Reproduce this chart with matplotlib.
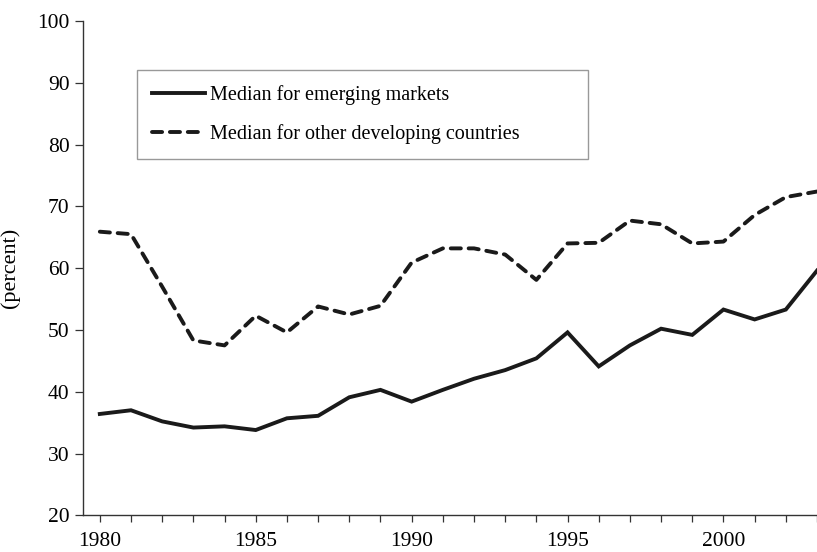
import numpy as np
import matplotlib.pyplot as plt

plt.rcParams['font.family'] = ['Liberation Serif', 'DejaVu Serif']

years = list(range(1980, 2004))
emerging = [36.4, 37.0, 35.2, 34.2, 34.4, 33.8, 35.7, 36.1, 39.1, 40.3, 38.4, 40.3,
            42.1, 43.5, 45.4, 49.6, 44.1, 47.5, 50.2, 49.2, 53.3, 51.7, 53.3, 59.6]
developing = [65.9, 65.5, 57.0, 48.3, 47.5, 52.3, 49.6, 53.8, 52.5, 53.9, 60.9, 63.2,
              63.2, 62.2, 58.1, 64.0, 64.1, 67.7, 67.1, 64.0, 64.3, 68.6, 71.5, 72.4]

W, H = 817, 552
fig = plt.figure(figsize=(W / 100, H / 100), dpi=100)
ax = fig.add_axes([83.3 / W, (H - 515.3) / H, (W - 83.3) / W, (515.3 - 21) / H])

l1, = ax.plot(years, emerging, color='#1a1a1a', lw=2.8, solid_joinstyle='miter',
              label='Median for emerging markets')
l2, = ax.plot(years, developing, color='#1a1a1a', lw=2.8, dashes=(2.6, 2.0),
              dash_capstyle='round', label='Median for other developing countries')

ax.set_xlim(1979.47, 2002.91)
ax.set_ylim(20, 100)
ax.set_yticks(range(20, 101, 10))
ax.set_xticks(years, minor=True)
ax.set_xticks([1980, 1985, 1990, 1995, 2000])
ax.tick_params(axis='both', which='both', direction='out', labelsize=15.5, color='#333333')
ax.tick_params(axis='x', which='both', length=5, width=0.9, pad=7)
ax.tick_params(axis='y', length=6, width=0.9, pad=4)
for s in ['top', 'right']:
    ax.spines[s].set_visible(False)
for s in ['left', 'bottom']:
    ax.spines[s].set_linewidth(1.0)
    ax.spines[s].set_color('#333333')

ax.set_ylabel('(percent)', fontsize=16, labelpad=12)

leg = ax.legend(handles=[l1, l2], loc='upper left',
                bbox_to_anchor=(137.3 / W, 1 - 157.3 / H, (587.7 - 137.3) / W, (157.3 - 70) / H),
                bbox_transform=fig.transFigure, mode='expand', borderaxespad=0,
                fancybox=False, edgecolor='#808080', fontsize=14.5,
                handlelength=2.6, handletextpad=0.25, labelspacing=0.95,
                borderpad=0.75)
leg.get_frame().set_linewidth(1.0)

fig.savefig('out.png', dpi=100)
